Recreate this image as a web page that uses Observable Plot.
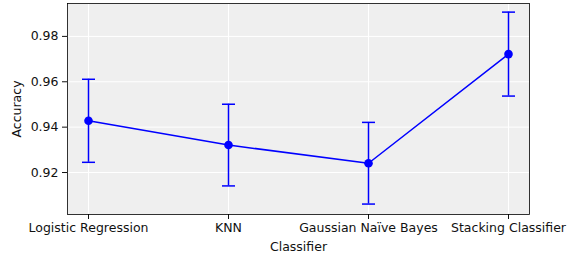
<!DOCTYPE html>
<html>
<head>
<meta charset="utf-8">
<script src="https://cdn.jsdelivr.net/npm/d3@7"></script>
<script src="https://cdn.jsdelivr.net/npm/@observablehq/plot@0.6"></script>
<style>
  html, body { margin: 0; padding: 0; background: #fff; }
</style>
</head>
<body>
<div id="chart"></div>
<script>
const classifiers = ["Logistic Regression", "KNN", "Gaussian Naïve Bayes", "Stacking Classifier"];
const meanAcc = [0.9428, 0.9321, 0.9241, 0.9722];
const errAcc = [0.0183, 0.0180, 0.0180, 0.0185];
const yTicks = [0.92, 0.94, 0.96, 0.98];

const data = classifiers.map((c, i) => ({
  classifier: c,
  mean: meanAcc[i],
  lo: meanAcc[i] - errAcc[i],
  hi: meanAcc[i] + errAcc[i]
}));

const capSymbol = {
  draw(context, size) {
    const w = Math.sqrt(size / Math.PI);
    context.moveTo(-w, 0);
    context.lineTo(w, 0);
  }
};

const blue = "#0000ff";

const chart = Plot.plot({
  width: 569,
  height: 257,
  marginLeft: 67,
  marginRight: 40,
  marginTop: 3,
  marginBottom: 43,
  style: { fontFamily: "DejaVu Sans", fontSize: "12.5px", color: "#111", background: "#fff" },
  x: { type: "point", domain: classifiers, padding: 0.15 },
  y: { domain: [0.9015, 0.9945] },
  marks: [
    Plot.frame({ fill: "#efefef" }),
    Plot.gridY(yTicks, { stroke: "#fff", strokeOpacity: 1, strokeWidth: 1 }),
    Plot.gridX(classifiers, { stroke: "#fff", strokeOpacity: 1, strokeWidth: 1 }),
    Plot.axisY(yTicks, {
      tickFormat: d3.format(".2f"), tickSize: 5, tickPadding: 4,
      label: "Accuracy", labelAnchor: "center", labelArrow: "none", labelOffset: 55
    }),
    Plot.axisX(classifiers, {
      tickSize: 5, tickPadding: 4,
      label: "Classifier", labelAnchor: "center", labelArrow: "none", labelOffset: 36
    }),
    Plot.ruleX(data, { x: "classifier", y1: "lo", y2: "hi", stroke: blue, strokeWidth: 1.5 }),
    Plot.dot(data, { x: "classifier", y: "lo", symbol: capSymbol, r: 6.5, stroke: blue, strokeWidth: 1.5, fill: "none" }),
    Plot.dot(data, { x: "classifier", y: "hi", symbol: capSymbol, r: 6.5, stroke: blue, strokeWidth: 1.5, fill: "none" }),
    Plot.line(data, { x: "classifier", y: "mean", stroke: blue, strokeWidth: 1.5 }),
    Plot.dot(data, { x: "classifier", y: "mean", r: 4.3, fill: blue, stroke: "none" }),
    Plot.frame({ stroke: "#000", strokeWidth: 0.8 })
  ]
});

document.getElementById("chart").appendChild(chart);
</script>
</body>
</html>
